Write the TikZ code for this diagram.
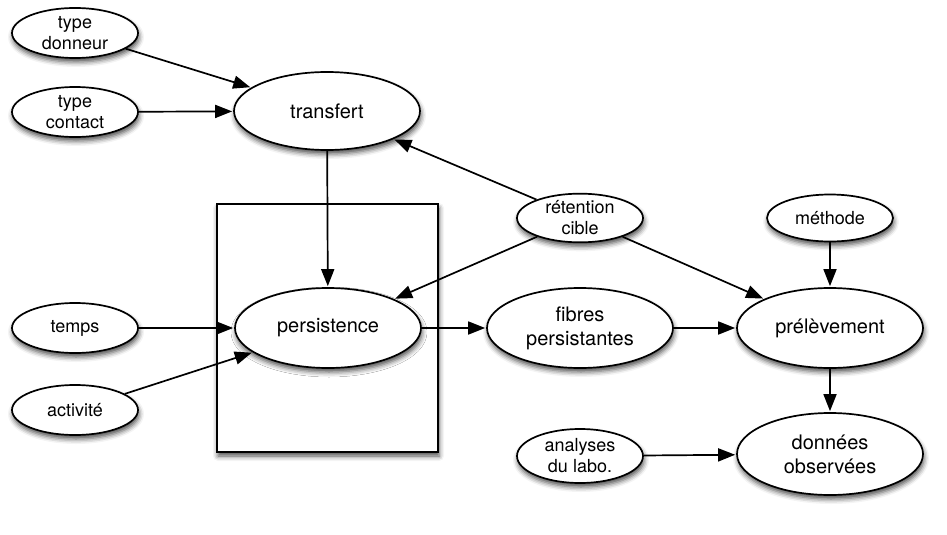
\documentclass[tikz,border=0pt]{standalone}
\usepackage{fontspec}
\setmainfont{TeX Gyre Heros}
\usetikzlibrary{shapes.geometric,arrows.meta,shadows.blur}
\begin{document}
\begin{tikzpicture}[x=1pt,y=-1pt,
  shade/.style={blur shadow={shadow xshift=1pt,shadow yshift=-4pt,shadow blur radius=5pt,shadow opacity=70}},
  small/.style={ellipse,draw,line width=1.7pt,fill=white,shade,minimum width=126pt,minimum height=50pt,inner sep=0pt,align=center,font=\fontsize{18}{21}\selectfont},
  big/.style={ellipse,draw,line width=1.7pt,fill=white,shade,minimum width=186pt,minimum height=80pt,inner sep=0pt,align=center,font=\fontsize{20}{24}\selectfont},
  link/.style={line width=1.7pt,shorten >=1pt,-{Triangle[length=17pt,width=13pt]}}]
\useasboundingbox (0,0) rectangle (947,535);
% plate around the persistence node
\node[draw,line width=1.7pt,fill=white,shade,minimum width=221pt,minimum height=248pt,inner sep=0pt] (plate) at (327.5,328) {};
% nodes
\node[small] (donneur) at (75,33) {type\\donneur};
\node[small] (contact) at (75,112) {type\\contact};
\node[big,minimum height=78pt] (transfert) at (327,111) {transfert};
\node[small,minimum height=47pt] (retention) at (580,218) {rétention\\cible};
\node[small,minimum height=47pt] (methode) at (830,218) {méthode};
\node[small] (temps) at (75,328) {temps};
\node[small] (activite) at (75,410) {activité};
\node[big] (persistence) at (328,328) {persistence};
\node[big] (fibres) at (580,328) {fibres\\persistantes};
\node[big] (prelevement) at (830,328) {prélèvement};
\node[small,minimum height=54pt] (analyses) at (580,456) {analyses\\du labo.};
\node[big,minimum height=82pt] (donnees) at (830,454) {données\\observées};
% connectors
\draw[link] (donneur) -- (transfert);
\draw[link] (contact) -- (transfert);
\draw[link] (transfert) -- (persistence);
\draw[link] (retention) -- (transfert);
\draw[link] (retention) -- (persistence);
\draw[link] (retention) -- (prelevement);
\draw[link] (temps) -- (persistence);
\draw[link] (activite) -- (persistence);
\draw[link] (persistence) -- (fibres);
\draw[link] (fibres) -- (prelevement);
\draw[link] (methode) -- (prelevement);
\draw[link] (prelevement) -- (donnees);
\draw[link] (analyses) -- (donnees);
\end{tikzpicture}
\end{document}
